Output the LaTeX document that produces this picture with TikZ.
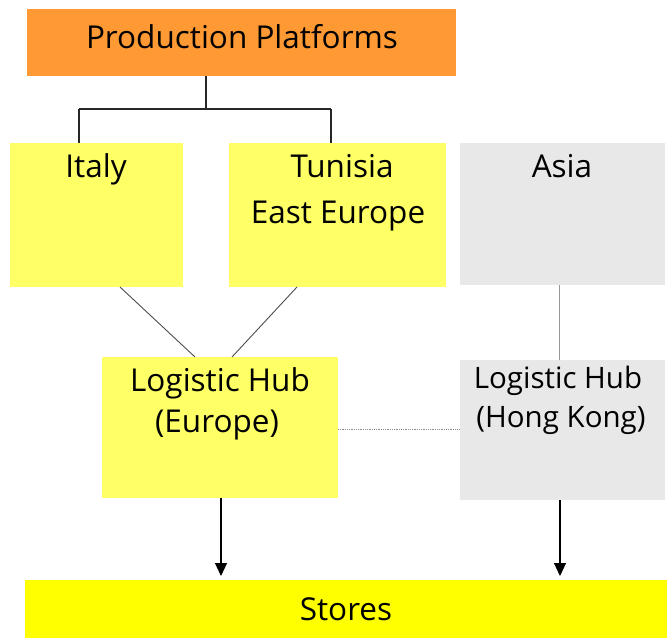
\documentclass[tikz,border=0pt]{standalone}
\usepackage{fontspec}
\setmainfont{Open Sans}
\usetikzlibrary{arrows.meta}
\definecolor{orangebox}{HTML}{FF9933}
\definecolor{paleyellow}{HTML}{FFFF66}
\definecolor{brightyellow}{HTML}{FFFF00}
\definecolor{lightgray}{HTML}{E8E8E8}
\begin{document}
\begin{tikzpicture}[x=1pt,y=-1pt,
  box/.style={draw=none,inner sep=0pt,outer sep=0pt},
  lbl/.style={inner sep=0pt,anchor=base,font=\fontsize{31.5}{38}\selectfont},
  small/.style={inner sep=0pt,anchor=base,font=\fontsize{29.5}{36}\selectfont},
  link/.style={line width=0.9pt,draw=black!70}]
\useasboundingbox (0,0) rectangle (667,640);

% boxes
\node[box,fill=orangebox,minimum width=429pt,minimum height=67pt] (pp) at (241.5,42.5) {};
\node[box,fill=paleyellow,minimum width=173pt,minimum height=144pt] (it) at (96.5,215) {};
\node[box,fill=paleyellow,minimum width=217pt,minimum height=144pt] (tu) at (337.5,215) {};
\node[box,fill=lightgray,minimum width=205pt,minimum height=142pt] (as) at (562.5,214) {};
\node[box,fill=paleyellow,minimum width=236pt,minimum height=141pt] (eu) at (220,427.5) {};
\node[box,fill=lightgray,minimum width=205pt,minimum height=140pt] (hk) at (562.5,430) {};
\node[box,fill=brightyellow,minimum width=642pt,minimum height=58pt] (st) at (346,609) {};

% labels, one node per line, placed on their baselines
\node[lbl] (tpp) at (242,48) {Production Platforms};
\node[lbl] (tit) at (96,177) {Italy};
\node[lbl] (ttu) at (342,177) {Tunisia};
\node[lbl] (tee) at (338,223) {East Europe};
\node[lbl] (tas) at (562,177) {Asia};
\node[lbl] (teu1) at (220,391) {Logistic Hub};
\node[lbl] (teu2) at (217,432) {(Europe)};
\node[small] (thk1) at (558,388) {Logistic Hub};
\node[small] (thk2) at (561,427) {(Hong Kong)};
\node[lbl] (tst) at (346,620) {Stores};

% tree from the production platforms
\coordinate (fork) at (206,109);
\draw[line width=1.2pt,black!85] (pp.south -| fork) -- (fork);
\draw[line width=1.2pt,black!85] (79,109) -- (331,109);
\draw[line width=1.2pt,black!85] (79,109) -- (it.north -| 79,0);
\draw[line width=1.2pt,black!85] (331,109) -- (tu.north -| 331,0);

% links to the hubs
\draw[link] (it.south -| 120,0) -- (eu.north -| 195,0);
\draw[link] (tu.south -| 297,0) -- (eu.north -| 232,0);
\draw[line width=0.9pt,draw=black!40] (as.south -| 559,0) -- (hk.north -| 559,0);
\draw[densely dotted,line width=0.8pt,draw=black!45] (eu.east |- 0,429) -- (hk.west |- 0,429);

% deliveries to the stores
\draw[line width=1.1pt,-{Triangle[length=13pt,width=12pt]}] (eu.south -| 221,0) -- (221,576);
\draw[line width=1.1pt,-{Triangle[length=13pt,width=12pt]}] (hk.south -| 560,0) -- (560,576);
\end{tikzpicture}
\end{document}
